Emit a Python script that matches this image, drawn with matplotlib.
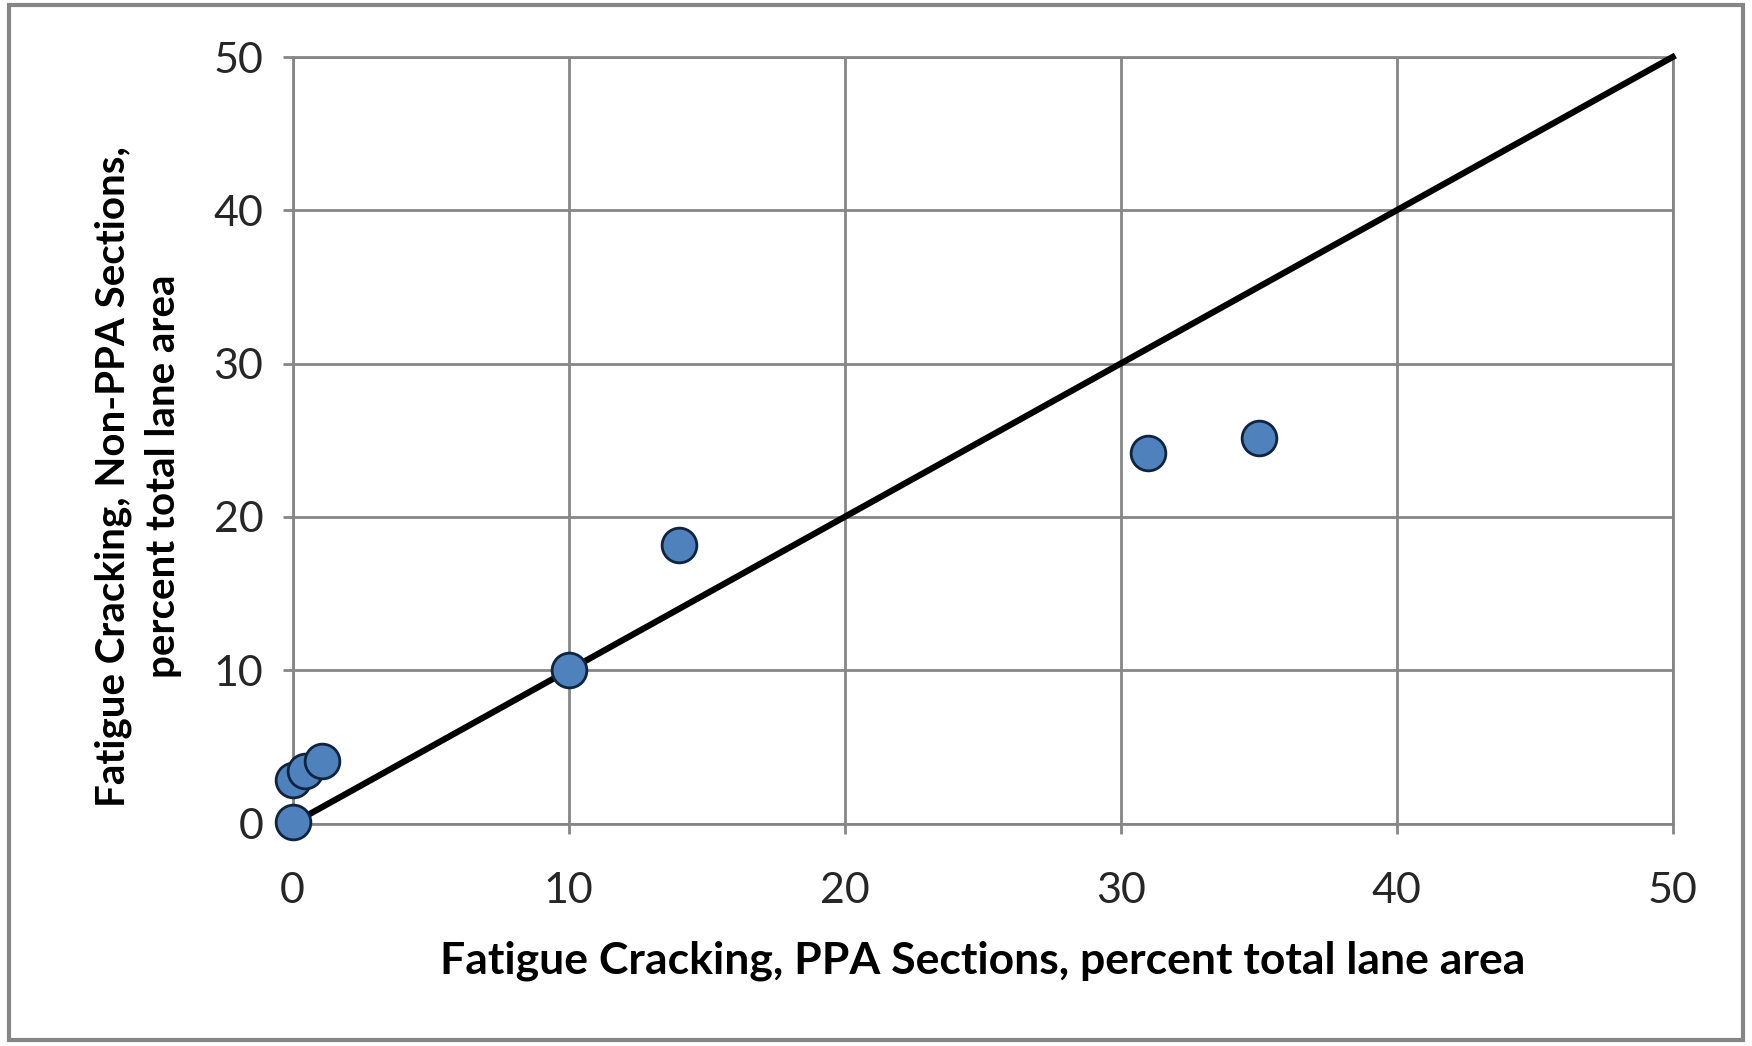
import matplotlib.pyplot as plt
from matplotlib.patches import Rectangle

# data
ppa = [0, 0.45, 1.05, 0, 10, 14, 31, 35]
non_ppa = [2.85, 3.4, 4.05, 0.1, 10, 18.15, 24.2, 25.15]
line_x = [0, 50]
line_y = [0, 50]
ticks = [0, 10, 20, 30, 40, 50]

plt.rcParams['font.family'] = ['Lato', 'DejaVu Sans']

fig = plt.figure(figsize=(17.52, 10.46), dpi=100)
ax = fig.add_axes([0.167, 0.2127, 0.7877, 0.7328])

grey = '#868686'
ax.set_xlim(0, 50)
ax.set_ylim(0, 50)
ax.set_xticks(ticks)
ax.set_yticks(ticks)
ax.grid(True, color=grey, linewidth=2)
for s in ax.spines.values():
    s.set_color(grey)
    s.set_linewidth(2)
ax.tick_params(axis='both', color=grey, width=2, length=7, labelsize=31, labelcolor='#262626')
ax.tick_params(axis='x', pad=28)
ax.tick_params(axis='y', pad=14)

ax.plot(line_x, line_y, color='black', linewidth=4.5, zorder=3, clip_on=False)
ax.plot(ppa, non_ppa, 'o', markersize=25, markerfacecolor='#4F81BD',
        markeredgecolor='#0F243E', markeredgewidth=2, zorder=4, clip_on=False)

ax.set_xlabel('Fatigue Cracking, PPA Sections, percent total lane area',
              fontsize=32, fontweight='bold', labelpad=22)
ax.set_ylabel('Fatigue Cracking, Non-PPA Sections,\npercent total lane area',
              fontsize=29, fontweight='bold', linespacing=1.45)
ax.yaxis.set_label_coords(-0.08, 0.453)

fig.patches.append(Rectangle((0.005, 0.006), 0.99, 0.989, transform=fig.transFigure,
                             fill=False, edgecolor=grey, linewidth=3))

fig.savefig('out.png', dpi=100)
